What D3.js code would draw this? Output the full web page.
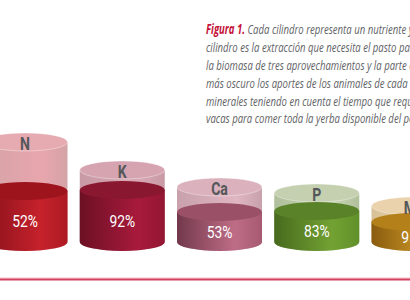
<!DOCTYPE html>
<html>
<head>
<meta charset="utf-8">
<script src="https://cdn.jsdelivr.net/npm/d3@7"></script>
<style>
  body { margin: 0; background: #fff; }
  svg { display: block; }
</style>
</head>
<body>
<svg id="chart" width="410" height="300"></svg>
<script>
// --- data ---
const nutrients   = ["N", "K", "Ca", "P", "Mg"];
const extraccion  = [100, 72, 55, 49, 36];   // height of the whole cylinder
const aportes     = [51, 52, 30, 31, 20];    // height of the darker part
const porcentajes = ["52%", "92%", "53%", "83%", "95%"];
const captionLines = [
  "Cada cilindro representa un nutriente y el total del",
  "cilindro es la extracción que necesita el pasto para producir",
  "la biomasa de tres aprovechamientos y la parte coloreada",
  "más oscuro los aportes de los animales de cada uno de los",
  "minerales teniendo en cuenta el tiempo que requieren las",
  "vacas para comer toda la yerba disponible del potrero."
];

// colours per nutrient: glass side, glass top, fill side (dark, light, edge), fill top
const palette = [
  { gs: ["#d4a3a6", "#e8a6ad"], gt: "#e6abb1", fs: ["#86101a", "#c6222c", "#ad1a22"], ft: "#9e141d" },
  { gs: ["#c89aa6", "#d8a7b3"], gt: "#d6a4b0", fs: ["#6c1024", "#a81a3c", "#931632"], ft: "#8a1730" },
  { gs: ["#c8a1ac", "#dfb6c2"], gt: "#dab1bd", fs: ["#72384b", "#bf6d87", "#a65a72"], ft: "#9a5167" },
  { gs: ["#b0bf9b", "#c9d5b5"], gt: "#c4d0b0", fs: ["#476a1d", "#73a233", "#60902a"], ft: "#5a8229" },
  { gs: ["#d8c096", "#eedab4"], gt: "#ead3ac", fs: ["#8a5c0f", "#cf9a28", "#b8841c"], ft: "#b4801a" }
];

const svg = d3.select("#chart");
const defs = svg.append("defs");

// --- scales ---
const x = d3.scalePoint().domain(nutrients).range([25, 414]);
const h = d3.scaleLinear().domain([0, 100]).range([0, 100]);
const base = 242, rx = 42.5, ry = 9;

const data = nutrients.map((n, i) => ({
  n, i, ext: extraccion[i], ap: aportes[i], pct: porcentajes[i], c: palette[i]
}));

// gradients
data.forEach(d => {
  const g1 = defs.append("linearGradient").attr("id", "gs" + d.i);
  g1.append("stop").attr("offset", 0).attr("stop-color", d.c.gs[0]);
  g1.append("stop").attr("offset", 0.7).attr("stop-color", d.c.gs[1]);
  g1.append("stop").attr("offset", 1).attr("stop-color", d.c.gs[0]);
  const g2 = defs.append("linearGradient").attr("id", "fs" + d.i);
  g2.append("stop").attr("offset", 0).attr("stop-color", d.c.fs[0]);
  g2.append("stop").attr("offset", 0.68).attr("stop-color", d.c.fs[1]);
  g2.append("stop").attr("offset", 1).attr("stop-color", d.c.fs[2]);
});

function sidePath(cx, top, bottom) {
  return `M${cx - rx},${top}L${cx - rx},${bottom}A${rx},${ry} 0 0 0 ${cx + rx},${bottom}L${cx + rx},${top}Z`;
}

const cyl = svg.selectAll("g.cyl").data(data).join("g").attr("class", "cyl");

// glass part
cyl.append("path")
  .attr("d", d => sidePath(x(d.n), base - h(d.ext), base))
  .attr("fill", d => `url(#gs${d.i})`);
cyl.append("ellipse")
  .attr("cx", d => x(d.n)).attr("cy", d => base - h(d.ext))
  .attr("rx", rx).attr("ry", ry)
  .attr("fill", d => d.c.gt)
  .attr("stroke", "#fff").attr("stroke-opacity", 0.45).attr("stroke-width", 0.8);

// filled part
cyl.append("path")
  .attr("d", d => sidePath(x(d.n), base - h(d.ap), base))
  .attr("fill", d => `url(#fs${d.i})`);
cyl.append("ellipse")
  .attr("cx", d => x(d.n)).attr("cy", d => base - h(d.ap))
  .attr("rx", rx).attr("ry", ry)
  .attr("fill", d => d.c.ft);

// nutrient labels
cyl.append("text")
  .attr("transform", d => `translate(${x(d.n)},${base - h(d.ext) + 1.5}) scale(0.76,1)`)
  .attr("text-anchor", "middle").attr("dy", "0.36em")
  .attr("font-family", "Roboto, 'Liberation Sans', sans-serif")
  .attr("font-weight", "bold").attr("font-size", 18.5)
  .attr("fill", "#55585a")
  .text(d => d.n);

// percentage labels
cyl.append("text")
  .attr("transform", d => `translate(${x(d.n)},${(base - h(d.ap) + base) / 2 + 5}) scale(0.84,1)`)
  .attr("text-anchor", "middle").attr("dy", "0.36em")
  .attr("font-family", "Roboto, 'Liberation Sans', sans-serif")
  .attr("font-size", 16.5)
  .attr("fill", "#fff")
  .text(d => d.pct);

// bottom rule
svg.append("line").attr("x1", 0).attr("x2", 410).attr("y1", 278).attr("y2", 278)
  .attr("stroke", "#f2bcc8").attr("stroke-width", 1);
svg.append("line").attr("x1", 0).attr("x2", 410).attr("y1", 279.5).attr("y2", 279.5)
  .attr("stroke", "#d4405e").attr("stroke-width", 2);

// caption
const cap = svg.append("g");
const capFont = "'Open Sans', Roboto, sans-serif";
const capSize = 13.5;
const probe = cap.append("text").attr("font-family", capFont).attr("font-style", "italic")
  .attr("font-size", capSize).text("cilindro es la extracción que necesita el pasto pa");
const sx = 204 / probe.node().getComputedTextLength();
probe.remove();
cap.attr("transform", `translate(206,0) scale(${sx},1)`);

captionLines.forEach((line, i) => {
  const t = cap.append("text")
    .attr("y", 34.5 + i * 17.8)
    .attr("font-family", capFont).attr("font-style", "italic")
    .attr("font-size", capSize).attr("fill", "#616265");
  if (i === 0) {
    t.append("tspan").attr("font-weight", "bold").attr("fill", "#c5123a").text("Figura 1.");
    t.append("tspan").text(" " + line);
  } else {
    t.text(line);
  }
});
</script>
</body>
</html>
